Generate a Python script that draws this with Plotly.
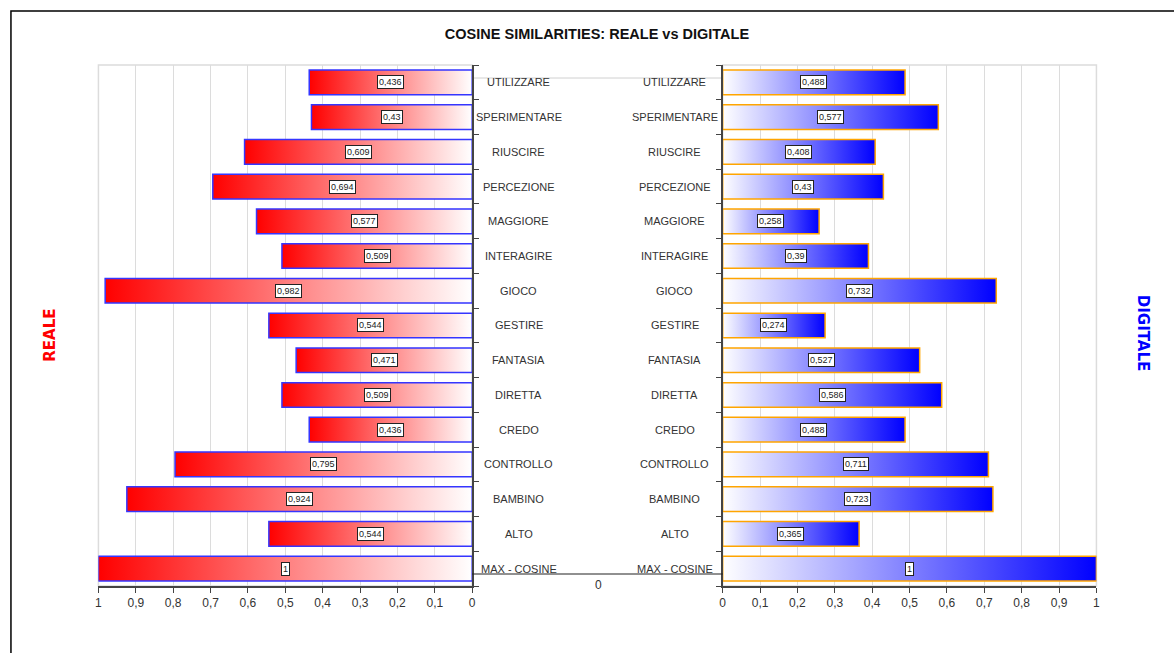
import plotly.graph_objects as go

# ---------------- data ----------------
categories = ["MAX - COSINE", "ALTO", "BAMBINO", "CONTROLLO", "CREDO", "DIRETTA",
              "FANTASIA", "GESTIRE", "GIOCO", "INTERAGIRE", "MAGGIORE",
              "PERCEZIONE", "RIUSCIRE", "SPERIMENTARE", "UTILIZZARE"]
reale = [1, 0.544, 0.924, 0.795, 0.436, 0.509, 0.471, 0.544, 0.982, 0.509,
         0.577, 0.694, 0.609, 0.43, 0.436]
digitale = [1, 0.365, 0.723, 0.711, 0.488, 0.586, 0.527, 0.274, 0.732, 0.39,
            0.258, 0.43, 0.408, 0.577, 0.488]
title_text = "COSINE SIMILARITIES: REALE vs DIGITALE"

# ---------------- layout helpers ----------------
W, H = 1174, 653
def px(x):
    return x / W
def py(y):
    return 1 - y / H

FONT = "Liberation Sans, Arial, sans-serif"
half = 0.355

fig = go.Figure()

def fmt(v):
    return ("%g" % v).replace(".", ",")

for i, v in enumerate(reale):
    fig.add_trace(go.Scatter(
        x=[0, v, v, 0, 0], y=[i - half, i - half, i + half, i + half, i - half],
        xaxis="x", yaxis="y", mode="lines", fill="toself",
        fillgradient=dict(type="horizontal", colorscale=[[0, "#ff0000"], [1, "#ffffff"]]),
        line=dict(color="#3535ff", width=1.5), hoverinfo="skip", showlegend=False))
for i, v in enumerate(digitale):
    fig.add_trace(go.Scatter(
        x=[0, v, v, 0, 0], y=[i - half, i - half, i + half, i + half, i - half],
        xaxis="x2", yaxis="y2", mode="lines", fill="toself",
        fillgradient=dict(type="horizontal", colorscale=[[0, "#ffffff"], [1, "#0000ff"]]),
        line=dict(color="#ffa500", width=1.5), hoverinfo="skip", showlegend=False))

annotations = []
for i, (c, v) in enumerate(zip(categories, reale)):
    annotations.append(dict(x=v / 2, y=i, xref="x", yref="y", text=fmt(v), showarrow=False,
                            bgcolor="white", bordercolor="#222", borderwidth=1, borderpad=1,
                            font=dict(family=FONT, size=9, color="#222")))
    annotations.append(dict(x=px(519), y=i, xref="paper", yref="y", text=c, showarrow=False,
                            xanchor="center", font=dict(family=FONT, size=11, color="#333")))
for i, (c, v) in enumerate(zip(categories, digitale)):
    annotations.append(dict(x=v / 2, y=i, xref="x2", yref="y2", text=fmt(v), showarrow=False,
                            bgcolor="white", bordercolor="#222", borderwidth=1, borderpad=1,
                            font=dict(family=FONT, size=9, color="#222")))
    annotations.append(dict(x=px(676), y=i, xref="paper", yref="y2", text=c, showarrow=False,
                            xanchor="center", font=dict(family=FONT, size=11, color="#333")))

annotations += [
    dict(x=px(599), y=py(585), xref="paper", yref="paper", text="0", showarrow=False,
         xanchor="center", yanchor="middle",
         font=dict(family=FONT, size=12, color="#333")),
    dict(x=px(47), y=py(335), xref="paper", yref="paper", text="REALE", showarrow=False,
         xanchor="center", yanchor="middle", textangle=-90,
         font=dict(family="DejaVu Sans", size=15, color="#ff0000", weight="bold")),
    dict(x=px(1147), y=py(333), xref="paper", yref="paper", text="DIGITALE", showarrow=False,
         xanchor="center", yanchor="middle", textangle=90,
         font=dict(family="DejaVu Sans", size=15, color="#0000ff", weight="bold")),
]

shapes = [
    dict(type="rect", xref="paper", yref="paper", x0=px(96), x1=px(472), y0=py(586), y1=py(65),
         line=dict(color="#dcdcdc", width=1.5), layer="below"),
    dict(type="rect", xref="paper", yref="paper", x0=px(724), x1=px(1100), y0=py(586), y1=py(65),
         line=dict(color="#dcdcdc", width=1.5), layer="below"),
    dict(type="line", xref="paper", yref="paper", x0=px(472), x1=px(724), y0=py(78), y1=py(78),
         line=dict(color="#d0d0d0", width=1), layer="below"),
    dict(type="line", xref="paper", yref="paper", x0=px(472), x1=px(724), y0=py(574), y1=py(574),
         line=dict(color="#222", width=1.2)),
    dict(type="rect", xref="paper", yref="paper", x0=px(8), x1=px(1200), y0=py(700), y1=py(11),
         line=dict(color="#000", width=1.5)),
]

xcommon = dict(dtick=0.1, tick0=0, showgrid=True, gridcolor="#dcdcdc", gridwidth=1,
               showline=True, linecolor="#444", linewidth=1.5, ticks="outside", ticklen=5,
               tickcolor="#444", zeroline=False,
               tickfont=dict(family=FONT, size=12, color="#333"), fixedrange=True)
ycommon = dict(range=[-0.5, len(categories) - 0.5], showline=True, linecolor="#444",
               linewidth=1.5, ticks="outside", ticklen=5, tickcolor="#444",
               tickvals=[i - 0.5 for i in range(len(categories) + 1)],
               showticklabels=False, showgrid=False, zeroline=False, fixedrange=True,
               domain=[py(586), py(65)])

fig.update_layout(
    width=W, height=H, margin=dict(l=0, r=0, t=0, b=0),
    paper_bgcolor="white", plot_bgcolor="white", separators=",.",
    title=dict(text=title_text, x=px(597), y=py(34), xanchor="center", yanchor="middle",
               font=dict(family=FONT, size=14.5, color="#111", weight="bold")),
    xaxis=dict(domain=[px(96), px(472)], range=[1, 0], anchor="y", **xcommon),
    xaxis2=dict(domain=[px(724), px(1100)], range=[0, 1], anchor="y2", **xcommon),
    yaxis=dict(anchor="x", side="right", **ycommon),
    yaxis2=dict(anchor="x2", side="left", **ycommon),
    annotations=annotations, shapes=shapes, showlegend=False,
)

fig.write_html("out.html")
